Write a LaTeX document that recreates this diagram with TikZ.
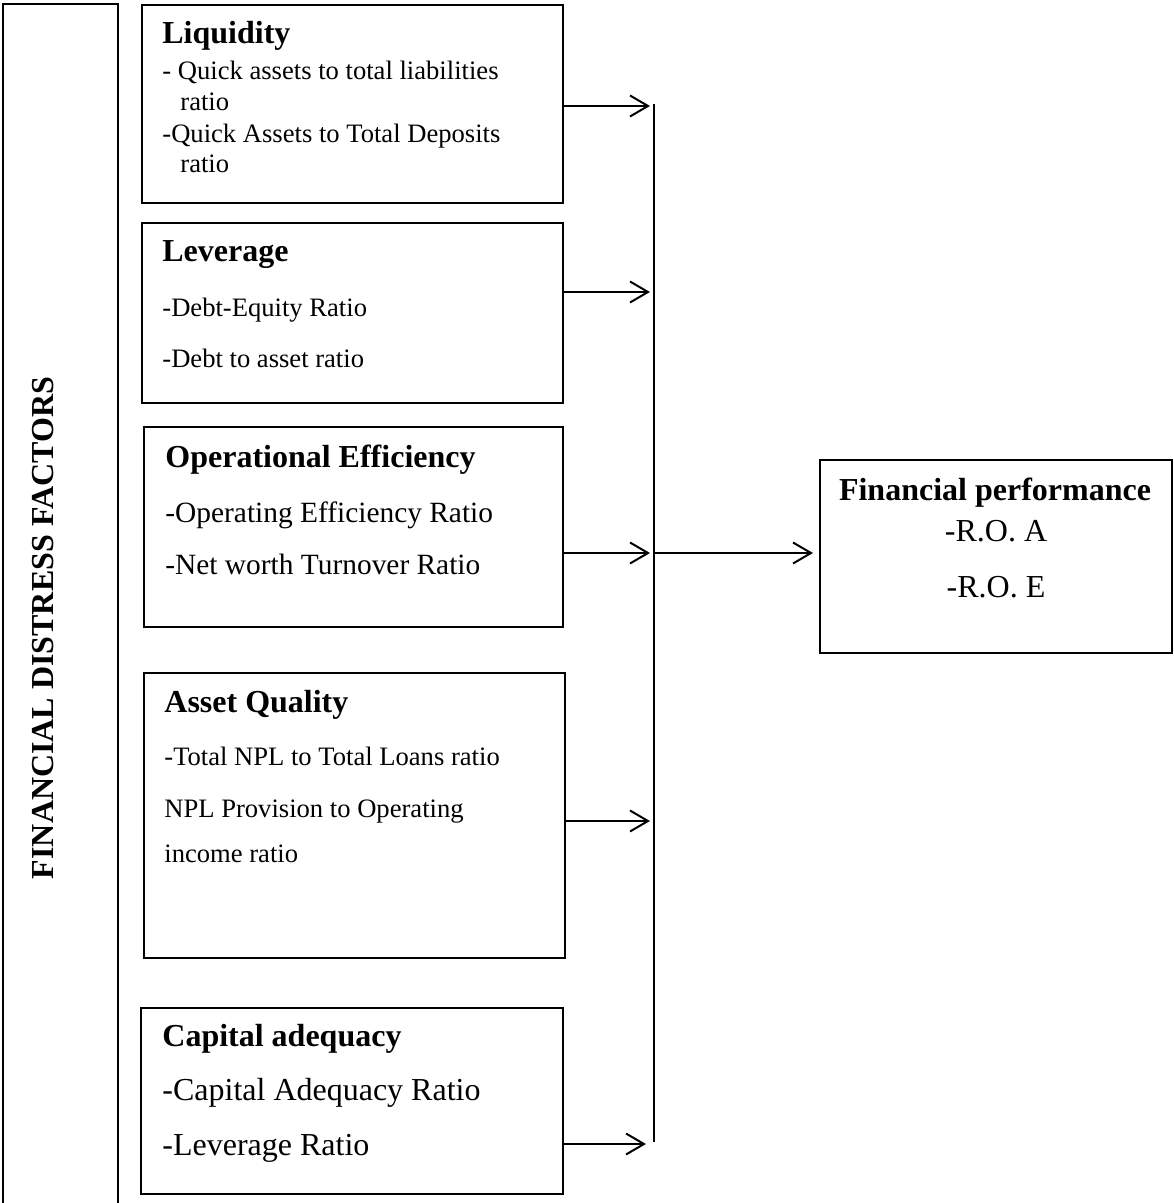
\documentclass[tikz,border=0pt]{standalone}
\usepackage{fontspec}
\setmainfont{Liberation Serif}
\usetikzlibrary{arrows.meta}
\begin{document}
\begin{tikzpicture}[x=0.5pt,y=-0.5pt,
  box/.style={draw, line width=0.9pt, inner sep=0pt, anchor=north west},
  lbl/.style={inner sep=0pt, anchor=base west},
  head/.style={lbl, font=\bfseries\fontsize{16}{19}\selectfont},
  sa/.style={lbl, font=\fontsize{13.3}{16}\selectfont},
  sb/.style={lbl, font=\fontsize{14.7}{18}\selectfont},
  sc/.style={lbl, font=\fontsize{16}{19}\selectfont},
  arr/.style={-{Straight Barb[length=9pt,width=10.5pt,line width=1pt]}, line width=1.1pt},
  thin/.style={line width=0.7pt}]
\useasboundingbox (0,0) rectangle (1173,1203);

% left frame (open at the bottom)
\draw[thin] (3,1203) -- (3,4) -- (118,4) -- (118,1203);
\node[rotate=90, anchor=base, inner sep=0pt, font=\bfseries\fontsize{16}{19}\selectfont] (title) at (54,628) {FINANCIAL DISTRESS FACTORS};

% boxes
\node[box, minimum width=210.5pt, minimum height=99pt]  (liq)  at (141,4) {};
\node[box, minimum width=210.5pt, minimum height=90pt]  (lev)  at (141,222) {};
\node[box, minimum width=209.5pt, minimum height=100pt] (ope)  at (143,426) {};
\node[box, minimum width=210.5pt, minimum height=142.5pt] (aq) at (143,672) {};
\node[box, minimum width=211pt, minimum height=93pt]    (cap)  at (140,1007) {};
\node[box, minimum width=176pt, minimum height=96.5pt]  (perf) at (819,459) {};

% Liquidity
\node[head] (t1) at (162,44) {Liquidity};
\node[sa] (t1a) at (162,80) {- Quick assets to total liabilities};
\node[sa] (t1b) at (180,111) {ratio};
\node[sa] (t1c) at (162,143) {-Quick Assets to Total Deposits};
\node[sa] (t1d) at (180,173) {ratio};

% Leverage
\node[head] (t2) at (162,262) {Leverage};
\node[sa] (t2a) at (162,317) {-Debt-Equity Ratio};
\node[sa] (t2b) at (162,367) {-Debt to asset ratio};

% Operational efficiency
\node[head] (t3) at (165,467) {Operational Efficiency};
\node[sb] (t3a) at (165,522) {-Operating Efficiency Ratio};
\node[sb] (t3b) at (165,574) {-Net worth Turnover Ratio};

% Asset quality
\node[head] (t4) at (164,712) {Asset Quality};
\node[sa] (t4a) at (164,765) {-Total NPL to Total Loans ratio};
\node[sa] (t4b) at (164,817) {NPL Provision to Operating};
\node[sa] (t4c) at (164,862) {income ratio};

% Capital adequacy
\node[head] (t5) at (162,1046) {Capital adequacy};
\node[sc] (t5a) at (162,1100) {-Capital Adequacy Ratio};
\node[sc] (t5b) at (162,1155) {-Leverage Ratio};

% Financial performance
\node[head, anchor=base] (t6) at (995,500) {Financial performance};
\node[sc, anchor=base] (t6a) at (996,541) {-R.O. A};
\node[sc, anchor=base] (t6b) at (996,597) {-R.O. E};

% bus line
\coordinate (bustop) at (654,104);
\coordinate (busbot) at (654,1142);
\draw[thin] (bustop) -- (busbot);

% arrow targets
\coordinate (e1) at (650,106);
\coordinate (e2) at (650,292);
\coordinate (e3) at (650,553);
\coordinate (e4) at (650,821);
\coordinate (e5) at (646,1144);
\coordinate (m) at (655,553);

\draw[arr] (liq.east |- e1) -- (e1);
\draw[arr] (lev.east |- e2) -- (e2);
\draw[arr] (ope.east |- e3) -- (e3);
\draw[arr] (aq.east |- e4) -- (e4);
\draw[arr] ([xshift=-1pt]cap.east |- e5) -- (e5);
\draw[arr, shorten >=3pt] (m) -- (perf.west |- m);
\end{tikzpicture}
\end{document}
